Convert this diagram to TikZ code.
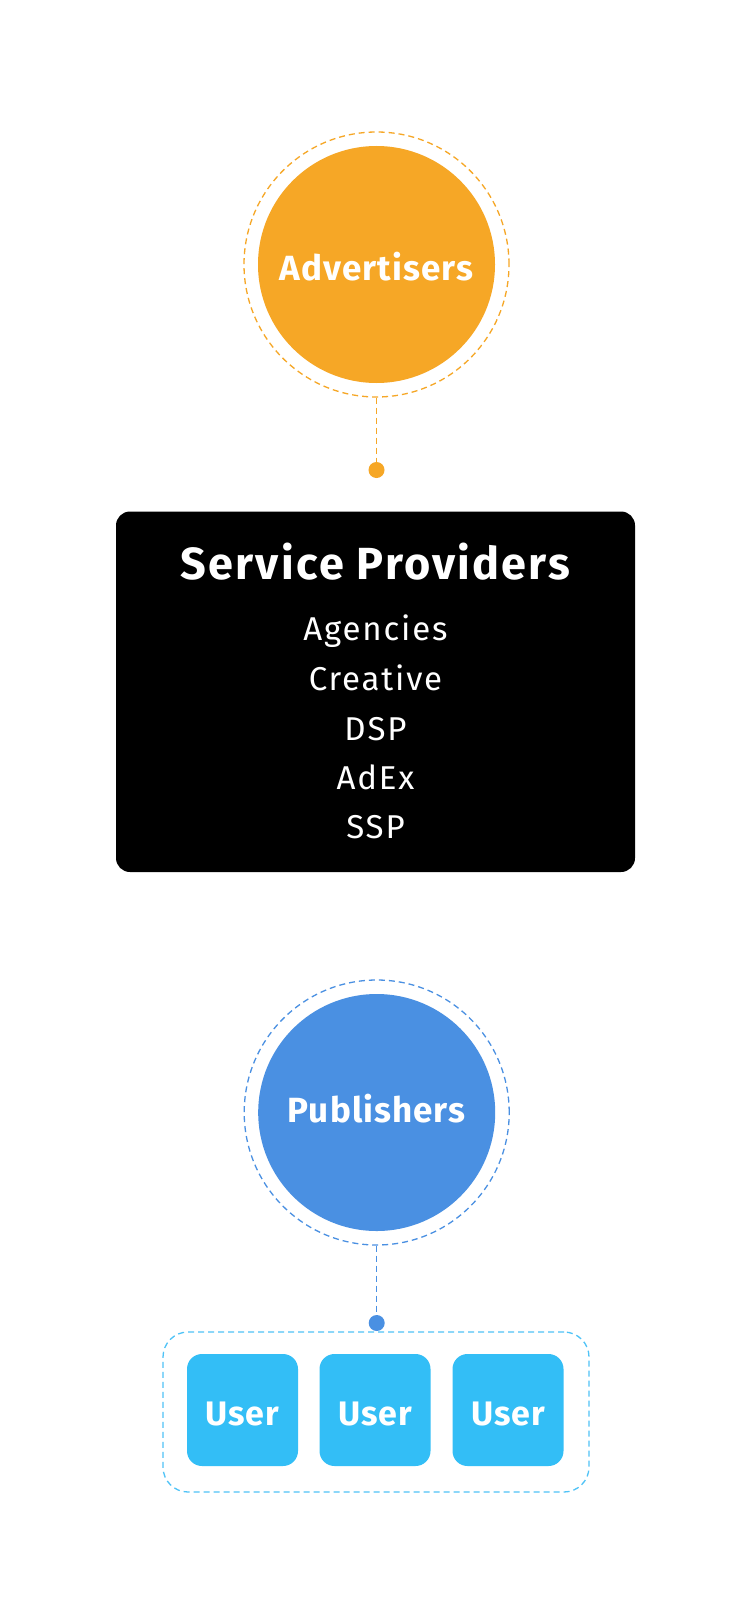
\documentclass[tikz,border=0pt]{standalone}
\usepackage{fontspec}
\setmainfont{Fira Sans}
\newfontfamily\circfont[LetterSpace=3]{Fira Sans}
\newfontfamily\titlefont[LetterSpace=5]{Fira Sans}
\newfontfamily\itemfont[LetterSpace=5.5]{Fira Sans}
\newfontfamily\userfont[LetterSpace=2.5]{Fira Sans}
\definecolor{orangeA}{HTML}{F6A726}
\definecolor{blueP}{HTML}{4A90E2}
\definecolor{cyanU}{HTML}{33BEF6}
\definecolor{cyanL}{HTML}{4FC3F7}
\tikzset{
  disc/.style={circle, inner sep=0pt, minimum size=237pt},
  ring/.style={circle, inner sep=0pt, minimum size=265pt, dash pattern=on 6pt off 4pt, line width=1.3pt},
  dotnode/.style={circle, inner sep=0pt, minimum size=16pt},
  link/.style={dash pattern=on 6pt off 4pt, line width=1.3pt},
  bigtxt/.style={anchor=base, text=white, font=\circfont\fontsize{35}{40}\selectfont\bfseries},
  titletxt/.style={anchor=base, text=white, font=\titlefont\fontsize{45}{50}\selectfont\bfseries},
  itemtxt/.style={anchor=base, text=white, font=\itemfont\fontsize{33}{36}\selectfont},
  userbox/.style={rounded corners=15pt, fill=cyanU, minimum width=111pt, minimum height=112pt, inner sep=0pt},
  usertxt/.style={anchor=base, text=white, font=\userfont\fontsize{34}{40}\selectfont\bfseries},
}
\begin{document}
\begin{tikzpicture}[x=1pt,y=-1pt]
\useasboundingbox (0,0) rectangle (750,1624);
\fill[white] (0,0) rectangle (750,1624);

% Advertisers
\node[disc, fill=orangeA] (adv) at (376.5,264.5) {};
\node[ring, draw=orangeA] (advring) at (376.5,264.5) {};
\node[bigtxt] (advtxt) at (376.5,280) {Advertisers};
\node[dotnode, fill=orangeA] (advdot) at (376.5,470) {};
\draw[link, orangeA] (advring.south) -- (advdot.center);

% Service providers
\node[rounded corners=14pt, fill=black, minimum width=519pt, minimum height=360.5pt, inner sep=0pt] (sp) at (375.5,691.75) {};
\node[titletxt] (sptitle) at (375.5,579.5) {Service Providers};
\node[itemtxt] (it1) at (375.5,640) {Agencies};
\node[itemtxt] (it2) at (375.5,690) {Creative};
\node[itemtxt] (it3) at (375.5,740) {DSP};
\node[itemtxt] (it4) at (375.5,789) {AdEx};
\node[itemtxt] (it5) at (375.5,838) {SSP};

% Publishers
\node[disc, fill=blueP] (pub) at (376.7,1112.5) {};
\node[ring, draw=blueP] (pubring) at (376.7,1112.5) {};
\node[bigtxt] (pubtxt) at (376.7,1122.3) {Publishers};
\node[dotnode, fill=blueP] (pubdot) at (376.7,1323) {};
\draw[link, blueP] (pubring.south) -- (pubdot.center);

% Users
\node[rounded corners=25pt, draw=cyanL, dash pattern=on 6pt off 4pt, line width=1.3pt, minimum width=426pt, minimum height=160pt, inner sep=0pt] (users) at (376,1412) {};
\node[userbox] (u1) at (242.5,1410) {};
\node[userbox] (u2) at (375,1410) {};
\node[userbox] (u3) at (508,1410) {};
\node[usertxt] (u1t) at (242.5,1425) {User};
\node[usertxt] (u2t) at (375,1425) {User};
\node[usertxt] (u3t) at (508,1425) {User};
\end{tikzpicture}
\end{document}
